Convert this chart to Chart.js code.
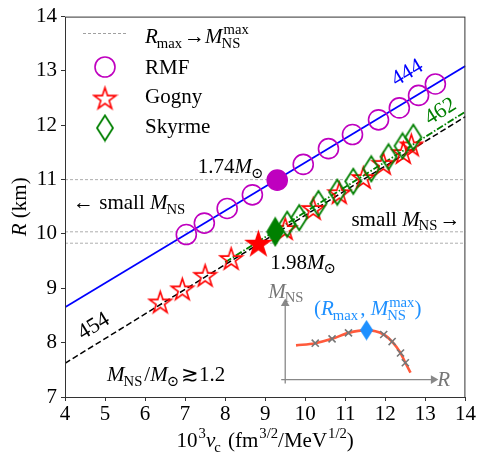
<!DOCTYPE html>
<html>
<head>
<meta charset="utf-8">
<script src="https://cdn.jsdelivr.net/npm/chart.js@4.4.0/dist/chart.umd.min.js"></script>
<style>
  html, body { margin: 0; padding: 0; background: #fff; }
  canvas { display: block; }
</style>
</head>
<body>
<canvas id="myChart" width="477" height="462"></canvas>
<script>
// ---- data ----
const rmfX = [7.03, 7.48, 8.05, 8.68, 9.95, 10.58, 11.18, 11.83, 12.35, 12.83, 13.25];
const rmfY = [9.99, 10.2, 10.47, 10.72, 11.28, 11.57, 11.83, 12.1, 12.32, 12.55, 12.76];
const rmfMax = { x: 9.3, y: 10.99 };

const gognyX = [6.38, 6.93, 7.5, 8.15, 9.5, 10.2, 10.85, 11.45, 11.95, 12.45, 12.65];
const gognyY = [8.75, 8.99, 9.24, 9.55, 10.1, 10.47, 10.76, 11.04, 11.3, 11.5, 11.64];
const gognyMax = { x: 8.83, y: 9.83 };

const skyrmeX = [9.55, 9.85, 10.33, 10.8, 11.2, 11.65, 12.08, 12.43, 12.7];
const skyrmeY = [10.18, 10.3, 10.56, 10.77, 10.97, 11.2, 11.42, 11.62, 11.78];
const skyrmeMax = { x: 9.25, y: 10.04 };

// fitted lines (end points)
const fitRmf = [{ x: 4, y: 8.65 }, { x: 14, y: 13.09 }];      // slope .444
const fitGogny = [{ x: 4, y: 7.62 }, { x: 14, y: 12.16 }];    // slope .454
const fitSkyrme = [{ x: 8.0, y: 9.48 }, { x: 14, y: 12.25 }]; // slope .462

const maxLevels = [11.0, 10.04, 9.83];

// inset sketch (in main-axis units)
const insetCurveX = [9.77, 10.25, 10.67, 11.08, 11.53, 11.96, 12.17, 12.38, 12.5, 12.63];
const insetCurveY = [7.95, 7.99, 8.07, 8.18, 8.23, 8.15, 8.02, 7.81, 7.63, 7.45];
const insetCrossX = [10.25, 10.67, 11.08, 11.96, 12.17, 12.38, 12.5];
const insetCrossY = [7.99, 8.07, 8.18, 8.15, 8.02, 7.81, 7.63];
const insetPeak = { x: 11.53, y: 8.23 };
const insetAxisV = [{ x: 9.5, y: 7.25 }, { x: 9.5, y: 8.72 }];
const insetAxisH = [{ x: 9.4, y: 7.32 }, { x: 13.2, y: 7.32 }];

const xTickMin = 4, xTickMax = 14, yTickMin = 7, yTickMax = 14;

const pts = (xs, ys) => xs.map((x, i) => ({ x: x, y: ys[i] }));

// ---- marker images ----
function starImg(r, color, fill) {
  const c = document.createElement("canvas");
  const s = Math.ceil(2 * r + 4);
  c.width = s; c.height = s;
  const g = c.getContext("2d");
  g.translate(s / 2, s / 2 + r * 0.1);
  g.beginPath();
  for (let i = 0; i < 10; i++) {
    const rr = i % 2 === 0 ? r : r * 0.382;
    const a = -Math.PI / 2 + i * Math.PI / 5;
    g.lineTo(rr * Math.cos(a), rr * Math.sin(a));
  }
  g.closePath();
  g.lineJoin = "miter";
  if (fill) { g.fillStyle = color; g.fill(); }
  g.strokeStyle = color; g.lineWidth = 1.6; g.stroke();
  return c;
}
function diamondImg(w, h, color, fill) {
  const c = document.createElement("canvas");
  c.width = Math.ceil(w + 4); c.height = Math.ceil(h + 4);
  const g = c.getContext("2d");
  const cx = c.width / 2, cy = c.height / 2;
  g.beginPath();
  g.moveTo(cx, cy - h / 2); g.lineTo(cx + w / 2, cy);
  g.lineTo(cx, cy + h / 2); g.lineTo(cx - w / 2, cy);
  g.closePath();
  if (fill) { g.fillStyle = color; g.fill(); }
  g.strokeStyle = color; g.lineWidth = 1.8; g.stroke();
  return c;
}

const MAG = "#bf00bf", RED = "#ff0000", GRN = "#008000", BLU = "#0000ff";
const starOpen = starImg(11.5, RED, false);
const starFull = starImg(12.5, RED, true);
const diaOpen = diamondImg(16, 25, GRN, false);
const diaFull = diamondImg(16, 27, GRN, true);
const insetDia = diamondImg(11, 17, "#1e90ff", true);

// ---- rich text (sub/superscripts) ----
const FAM = '"Liberation Serif", "DejaVu Serif", serif';
function fnt(size, it) { return (it ? "italic " : "") + size + "px " + FAM; }
function richWidth(ctx, parts, size) {
  let w = 0;
  parts.forEach((p) => {
    ctx.font = fnt(size, p.it);
    w += ctx.measureText(p.t).width;
    if (p.sub || p.sup) {
      ctx.font = fnt(size * 0.7, false);
      w += Math.max(p.sub ? ctx.measureText(p.sub).width : 0, p.sup ? ctx.measureText(p.sup).width : 0) + 1;
    }
  });
  return w;
}
function drawRich(ctx, x, y, parts, size, align, color) {
  const w = richWidth(ctx, parts, size);
  let cx = align === "right" ? x - w : align === "center" ? x - w / 2 : x;
  ctx.fillStyle = color;
  ctx.textBaseline = "alphabetic";
  ctx.textAlign = "left";
  parts.forEach((p) => {
    ctx.font = fnt(size, p.it);
    ctx.fillText(p.t, cx, y);
    cx += ctx.measureText(p.t).width;
    if (p.sub || p.sup) {
      ctx.font = fnt(size * 0.7, false);
      let sw = 0;
      if (p.sup) { ctx.fillText(p.sup, cx + 1, y - size * 0.42); sw = ctx.measureText(p.sup).width; }
      if (p.sub) { ctx.fillText(p.sub, cx - (p.it ? 1 : 0), y + size * 0.22); sw = Math.max(sw, ctx.measureText(p.sub).width); }
      cx += sw + 1;
    }
  });
}

const annotations = [
  { x: 9.0, y: 11.12, align: "right", color: "#000", parts: [{ t: "1.74" }, { t: "M", it: 1, sub: "\u2299" }] },
  { x: 4.2, y: 10.455, align: "left", color: "#000", parts: [{ t: "\u2190 small " }, { t: "M", it: 1, sub: "NS" }] },
  { x: 13.875, y: 10.15, align: "right", color: "#000", parts: [{ t: "small " }, { t: "M", it: 1, sub: "NS" }, { t: "\u2192" }] },
  { x: 9.125, y: 9.36, align: "left", color: "#000", parts: [{ t: "1.98" }, { t: "M", it: 1, sub: "\u2299" }] },
  { x: 5.05, y: 7.29, align: "left", color: "#000", parts: [{ t: "M", it: 1, sub: "NS" }, { t: "/" }, { t: "M", it: 1, sub: "\u2299" }, { t: "\u2273" }, { t: "1.2" }] },
  { x: 9.075, y: 8.83, align: "left", color: "#777", parts: [{ t: "M", it: 1, sub: "NS" }] },
  { x: 13.3, y: 7.21, align: "left", color: "#777", parts: [{ t: "R", it: 1 }] },
  { x: 10.22, y: 8.5, align: "left", color: "#1e90ff", parts: [{ t: "(" }, { t: "R", it: 1, sub: "max" }, { t: ", " }, { t: "M", it: 1, sub: "NS", sup: "max" }, { t: ")" }] },
];
const slopeLabels = [
  { x: 12.55, y: 12.96, text: "444", color: BLU, slope: 0.444 },
  { x: 13.38, y: 12.25, text: "462", color: GRN, slope: 0.462 },
  { x: 4.72, y: 8.3, text: "454", color: "#000", slope: 0.454 },
];

const decor = {
  id: "decor",
  beforeDraw(chart) {
    const c = chart.ctx;
    c.save(); c.fillStyle = "#fff"; c.fillRect(0, 0, chart.width, chart.height); c.restore();
  },
  afterDraw(chart) {
    const c = chart.ctx, a = chart.chartArea;
    const xs = chart.scales.x, ys = chart.scales.y;
    c.save();
    // frame
    c.strokeStyle = "#333"; c.lineWidth = 1;
    c.strokeRect(a.left + 0.5, a.top + 0.5, a.right - a.left - 1, a.bottom - a.top);

    // slope labels
    slopeLabels.forEach((s) => {
      const px = xs.getPixelForValue(s.x), py = ys.getPixelForValue(s.y);
      const ang = Math.atan2(ys.getPixelForValue(s.y + s.slope) - py, xs.getPixelForValue(s.x + 1) - px);
      c.save(); c.translate(px, py); c.rotate(ang);
      c.font = fnt(22, false); c.fillStyle = s.color; c.textAlign = "center"; c.textBaseline = "middle";
      c.fillText(s.text, 0, 0);
      c.restore();
    });

    annotations.forEach((t) => {
      drawRich(c, xs.getPixelForValue(t.x), ys.getPixelForValue(t.y), t.parts, 21, t.align, t.color);
    });

    // legend
    const lx = a.left + 40, tx = a.left + 80;
    c.strokeStyle = "#888"; c.lineWidth = 0.8; c.setLineDash([3, 2]);
    c.beginPath(); c.moveTo(a.left + 18, 33.5); c.lineTo(a.left + 62, 33.5); c.stroke();
    c.setLineDash([]);
    drawRich(c, tx, 43, [{ t: "R", it: 1, sub: "max" }, { t: "\u2192" }, { t: "M", it: 1, sub: "NS", sup: "max" }], 21, "left", "#000");
    c.strokeStyle = MAG; c.lineWidth = 1.6;
    c.beginPath(); c.arc(lx, 67, 10, 0, Math.PI * 2); c.stroke();
    drawRich(c, tx, 74, [{ t: "RMF" }], 21, "left", "#000");
    c.drawImage(starOpen, lx - starOpen.width / 2, 98 - starOpen.height / 2);
    drawRich(c, tx, 103, [{ t: "Gogny" }], 21, "left", "#000");
    c.drawImage(diaOpen, lx - diaOpen.width / 2, 128 - diaOpen.height / 2);
    drawRich(c, tx, 133, [{ t: "Skyrme" }], 21, "left", "#000");

    // axis titles
    drawRich(c, (a.left + a.right) / 2, 447, [{ t: "10", sup: "3" }, { t: "\u03bd", it: 1, sub: "c" }, { t: " (fm", sup: "3/2" }, { t: "/MeV", sup: "1/2" }, { t: ")" }], 21, "center", "#000");
    c.save(); c.translate(26, (a.top + a.bottom) / 2); c.rotate(-Math.PI / 2);
    drawRich(c, 0, 0, [{ t: "R", it: 1 }, { t: " (km)" }], 21, "center", "#000");
    c.restore();
    c.restore();
  },
};

const lineDs = (data, color, width, dash, order) => ({
  data: data, borderColor: color, borderWidth: width, borderDash: dash || [],
  pointRadius: 0, showLine: true, fill: false, order: order,
});
const markDs = (data, style, color, order, extra) => Object.assign({
  data: data, showLine: false, pointStyle: style, pointRadius: 10, pointBorderColor: color,
  pointBackgroundColor: "rgba(0,0,0,0)", pointBorderWidth: 1.6, order: order,
}, extra || {});

const datasets = [];
maxLevels.forEach((v) => datasets.push(lineDs([{ x: 4, y: v }, { x: 14, y: v }], "#999", 0.8, [3, 2], 20)));
datasets.push(lineDs(fitRmf, BLU, 1.8, [], 15));
datasets.push(lineDs(fitGogny, "#000", 1.5, [6, 3], 14));
datasets.push(lineDs(fitSkyrme, GRN, 1.8, [7, 2, 1.5, 2], 13));
datasets.push(markDs(pts(rmfX, rmfY), "circle", MAG, 9));
datasets.push(markDs([rmfMax], "circle", MAG, 8, { pointBackgroundColor: MAG }));
datasets.push(markDs(pts(gognyX, gognyY), starOpen, RED, 6));
datasets.push(markDs(pts(skyrmeX, skyrmeY), diaOpen, GRN, 5));
datasets.push(markDs([skyrmeMax], diaFull, GRN, 4));
datasets.push(markDs([gognyMax], starFull, RED, 3));
// inset sketch
datasets.push(Object.assign(lineDs(insetAxisV, "#888", 1.3, [], 12), { pointRadius: [0, 5], pointStyle: "triangle", pointBackgroundColor: "#888", pointBorderColor: "#888", pointBorderWidth: 0 }));
datasets.push(Object.assign(lineDs(insetAxisH, "#888", 1.3, [], 12), { pointRadius: [0, 5], pointStyle: "triangle", pointRotation: 90, pointBackgroundColor: "#888", pointBorderColor: "#888", pointBorderWidth: 0 }));
datasets.push(Object.assign(lineDs(pts(insetCurveX, insetCurveY), "#ff5a3c", 2.6, [], 11), { cubicInterpolationMode: "monotone" }));
datasets.push(markDs(pts(insetCrossX, insetCrossY), "crossRot", "#777", 10, { pointRadius: 5, pointBorderWidth: 1.6 }));
datasets.push(markDs([insetPeak], insetDia, "#1e90ff", 2));

const ctx = document.getElementById("myChart").getContext("2d");
new Chart(ctx, {
  type: "scatter",
  data: { datasets: datasets },
  plugins: [decor],
  options: {
    responsive: false,
    animation: false,
    devicePixelRatio: 1,
    layout: { padding: { top: 6, right: 11, left: 0, bottom: 0 } },
    plugins: { legend: { display: false }, tooltip: { enabled: false } },
    scales: {
      x: {
        type: "linear", min: xTickMin, max: xTickMax,
        afterFit: (s) => { s.height = 65; },
        border: { display: false },
        grid: { drawOnChartArea: false, drawTicks: true, tickLength: 4, color: "#333" },
        ticks: { stepSize: 1, color: "#000", padding: 1, font: { family: "Liberation Serif", size: 21 }, maxRotation: 0 },
      },
      y: {
        type: "linear", min: yTickMin, max: yTickMax,
        afterFit: (s) => { s.width = 65; },
        border: { display: false },
        grid: { drawOnChartArea: false, drawTicks: true, tickLength: 4, color: "#333" },
        ticks: { stepSize: 1, color: "#000", padding: 4, font: { family: "Liberation Serif", size: 21 } },
      },
    },
  },
});
</script>
</body>
</html>
